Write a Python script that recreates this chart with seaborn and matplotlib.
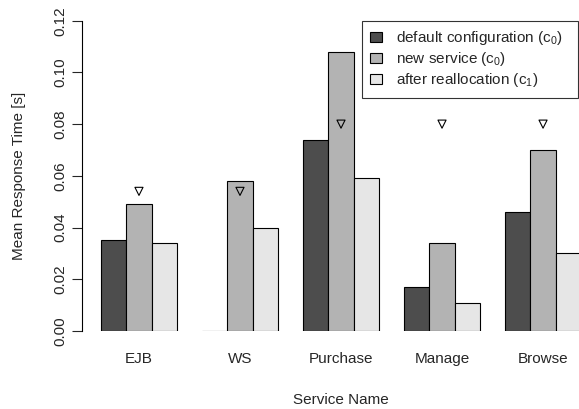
import numpy as np
import pandas as pd
import matplotlib
matplotlib.use("Agg")
import matplotlib.pyplot as plt
import seaborn as sns

# values
services = ["EJB", "WS", "Purchase", "Manage", "Browse"]
default_cfg = [0.035, 0.0, 0.074, 0.017, 0.046]
new_service = [0.049, 0.058, 0.108, 0.034, 0.070]
after_realloc = [0.034, 0.040, 0.059, 0.011, 0.030]
targets = [0.054, 0.054, 0.080, 0.080, 0.080]

labels = ["default configuration (c$_0$)", "new service (c$_0$)",
          "after reallocation (c$_1$)"]
colors = ["#4d4d4d", "#b3b3b3", "#e6e6e6"]

df = pd.DataFrame({
    "service": services * 3,
    "config": [labels[0]] * 5 + [labels[1]] * 5 + [labels[2]] * 5,
    "time": default_cfg + new_service + after_realloc,
})

sns.set_style("white")
plt.rcParams["font.family"] = ["Liberation Sans", "DejaVu Sans"]
plt.rcParams["mathtext.fontset"] = "custom"
plt.rcParams["mathtext.rm"] = "Liberation Sans"
plt.rcParams["mathtext.it"] = "Liberation Sans"

fs = 11
fig = plt.figure(figsize=(5.79, 4.09), dpi=100)
ax = fig.add_axes([81.7 / 579, 1 - 331 / 409, 1 - 81.7 / 579, (331 - 20.7) / 409])

sns.barplot(data=df, x="service", y="time", hue="config", order=services,
            hue_order=labels, palette=colors, width=0.75, gap=0,
            edgecolor="black", linewidth=0.8, ax=ax, saturation=1)

# target markers above the middle bar
ax.scatter(np.arange(len(services)), targets, marker="v", s=34,
           facecolors="none", edgecolors="black", linewidths=0.8, zorder=5)

ax.set_xlim(-0.567, 4.356)
ax.set_ylim(0, 0.12)
ax.set_yticks([0, 0.02, 0.04, 0.06, 0.08, 0.10, 0.12])
ax.set_yticklabels(["0.00", "0.02", "0.04", "0.06", "0.08", "0.10", "0.12"],
                   rotation=90, va="center")
ax.tick_params(axis="y", length=7, width=0.8, pad=3, labelsize=fs, left=True)
ax.tick_params(axis="x", length=0, pad=15, labelsize=fs)
for s in ["top", "right", "bottom"]:
    ax.spines[s].set_visible(False)
ax.spines["left"].set_color("black")
ax.spines["left"].set_linewidth(0.8)

ax.set_xlabel("Service Name", fontsize=fs)
ax.xaxis.set_label_coords((341 - 81.7) / 497.3, -0.2)
ax.set_ylabel("Mean Response Time [s]", fontsize=fs)
ax.yaxis.set_label_coords(-0.112, 0.5)

leg_box = (362 / 579, 1 - 20.7 / 409, 216 / 579, 0)
leg = ax.legend(loc="upper left", bbox_to_anchor=leg_box, mode="expand",
                bbox_transform=fig.transFigure, fontsize=fs, frameon=True,
                fancybox=False, edgecolor="black", handlelength=0.75,
                handleheight=0.65, labelspacing=0.2, borderpad=0.55,
                handletextpad=0.9, borderaxespad=0)
leg.get_frame().set_linewidth(0.8)

fig.savefig("out.png", dpi=100)
